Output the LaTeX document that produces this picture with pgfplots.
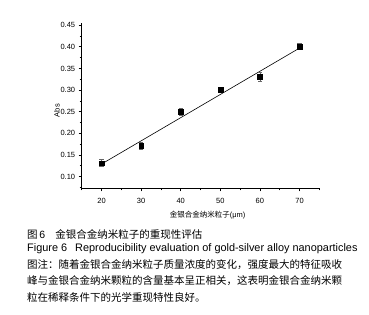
\documentclass[border=0pt]{standalone}
\usepackage{pgfplots}
\pgfplotsset{compat=1.18}
\usepackage{fontspec}
\setmainfont{Liberation Sans}
\newfontfamily\cjk{Noto Sans CJK SC}

\begin{document}
\begin{tikzpicture}[x=1pt,y=1pt]
\useasboundingbox (0,0) rectangle (369,315);
\begin{axis}[
  at={(81.7pt,126.7pt)}, anchor=south west,
  scale only axis, width=237.6pt, height=165.3pt,
  xmin=15, xmax=75, ymin=0.073, ymax=0.455,
  axis x line*=bottom, axis y line*=left,
  axis line style={line width=0.6pt},
  tick align=outside, tick style={black, line width=0.6pt},
  major tick length=3pt, minor tick length=2pt,
  xtick={20,30,...,70}, minor xtick={15,25,...,75},
  ytick={0.10,0.15,...,0.451}, minor ytick={0.075,0.125,...,0.45},
  /pgf/number format/assume math mode=true,
  /pgf/number format/.cd, fixed, fixed zerofill, precision=2, /tikz/.cd,
  xticklabel style={/pgf/number format/precision=0, font=\fontsize{7.5}{8}\selectfont, yshift=-3pt},
  yticklabel style={font=\fontsize{7.5}{8}\selectfont},
  xlabel={\cjk 金银合金纳米粒子\rmfamily(μm)},
  xlabel style={font=\fontsize{7.5}{8}\selectfont, at={(axis description cs:0.53,0)}, anchor=north, yshift=-19pt},
  ylabel={Abs},
  ylabel style={font=\fontsize{7.5}{8}\selectfont, at={(axis description cs:-0.104,0.47)}, anchor=center},
]
\addplot[black, line width=0.6pt, mark=none] coordinates {(20,0.129) (70,0.397)};
\addplot[only marks, mark=square*, mark size=2.4pt, black,
  error bars/.cd, y dir=both, y explicit,
  error bar style={black!60, line width=0.6pt},
  error mark options={rotate=90, mark size=2.2pt, black!60, line width=0.6pt}]
  coordinates {
  (20,0.131) +- (0,0.008)
  (30,0.171) +- (0,0.009)
  (40,0.250) +- (0,0.009)
  (50,0.301) +- (0,0.006)
  (60,0.330) +- (0,0.010)
  (70,0.401) +- (0,0.007)
};
\end{axis}
\node[anchor=west, inner sep=0] at (27,81) {\fontsize{10.5}{12}\selectfont\cjk 图\rmfamily\,6\hspace{10pt}\cjk 金银合金纳米粒子的重现性评估};
\node[anchor=west, inner sep=0] at (27,66) {\fontsize{10.9}{12}\selectfont Figure 6\hspace{8pt}Reproducibility evaluation of gold-silver alloy nanoparticles};
\node[anchor=west, inner sep=0] at (27,50) {\fontsize{10.5}{12}\selectfont\cjk 图注：随着金银合金纳米粒子质量浓度的变化，强度最大的特征吸收};
\node[anchor=west, inner sep=0] at (27,34) {\fontsize{10.5}{12}\selectfont\cjk 峰与金银合金纳米颗粒的含量基本呈正相关，这表明金银合金纳米颗};
\node[anchor=west, inner sep=0] at (27,18) {\fontsize{10.5}{12}\selectfont\cjk 粒在稀释条件下的光学重现特性良好。};
\end{tikzpicture}
\end{document}
